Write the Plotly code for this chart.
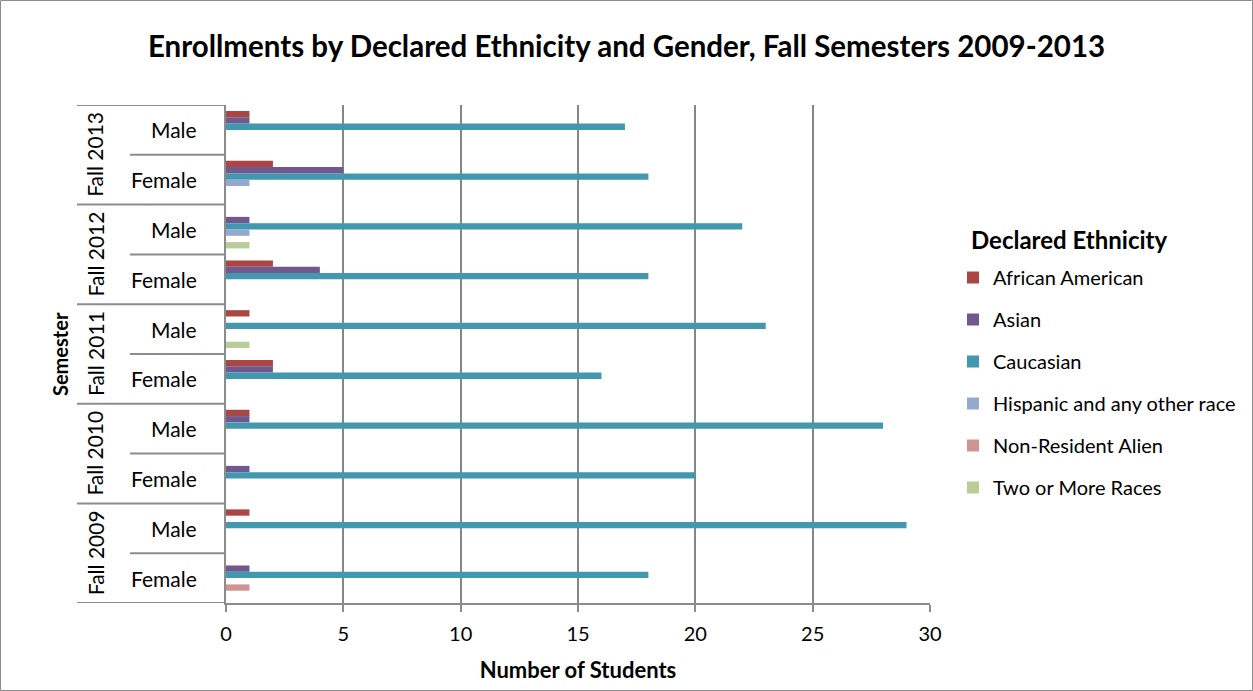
import plotly.graph_objects as go

# Categories listed top to bottom (semester, gender)
semesters = ["Fall 2013", "Fall 2013", "Fall 2012", "Fall 2012", "Fall 2011",
             "Fall 2011", "Fall 2010", "Fall 2010", "Fall 2009", "Fall 2009"]
genders = ["Male", "Female", "Male", "Female", "Male",
           "Female", "Male", "Female", "Male", "Female"]

african_american = [1, 2, 0, 2, 1, 2, 1, 0, 1, 0]
asian = [1, 5, 1, 4, 0, 2, 1, 1, 0, 1]
caucasian = [17, 18, 22, 18, 23, 16, 28, 20, 29, 18]
hispanic = [0, 1, 1, 0, 0, 0, 0, 0, 0, 0]
non_resident_alien = [0, 0, 0, 0, 0, 0, 0, 0, 0, 1]
two_or_more = [0, 0, 1, 0, 1, 0, 0, 0, 0, 0]

series = [
    ("African American", african_american, "#AA4643"),
    ("Asian", asian, "#71588F"),
    ("Caucasian", caucasian, "#4198AF"),
    ("Hispanic and any other race", hispanic, "#93A9CF"),
    ("Non-Resident Alien", non_resident_alien, "#D19392"),
    ("Two or More Races", two_or_more, "#B9CD96"),
]

FONT = "Lato"
W, H = 1253, 691
ML, MR, MT, MB = 226, 323, 105, 88
PW, PH = W - ML - MR, H - MT - MB

n = len(genders)
ypos = list(range(n))

fig = go.Figure()
for i, (name, vals, color) in enumerate(series):
    fig.add_trace(go.Bar(
        y=ypos, x=vals, name=name, orientation="h",
        marker=dict(color=color, line=dict(width=0)),
        legendgroup=f"g{i}",
        customdata=[f"{s} {g}" for s, g in zip(semesters, genders)],
        hovertemplate="%{customdata}<br>%{x}<extra>" + name + "</extra>",
    ))

def px_x(px):
    return (px - ML) / PW

def px_y(py):
    return 1 - (py - MT) / PH

line_col = "#8C8C8C"
shapes = []
annotations = []

# frame around the whole chart
shapes.append(dict(type="rect", xref="paper", yref="paper",
                   x0=px_x(0.5), x1=px_x(W - 0.5),
                   y0=px_y(0.5), y1=px_y(H - 0.5),
                   line=dict(color="#8C8C8C", width=1)))

# category dividers: semester boundaries (long) and gender boundaries (short)
for k in range(n + 1):
    yb = k - 0.5
    long_line = (k % 2 == 0)
    shapes.append(dict(type="line", xref="paper", yref="y",
                       x0=px_x(77 if long_line else 130), x1=0,
                       y0=yb, y1=yb,
                       line=dict(color=line_col, width=2)))

# gender labels
for k, g in enumerate(genders):
    annotations.append(dict(x=px_x(199), y=k, xref="paper", yref="y",
                            text=g, showarrow=False, xanchor="right",
                            font=dict(family=FONT, size=21, color="#000")))

# semester labels, rotated
for k in range(0, n, 2):
    annotations.append(dict(x=px_x(95), y=k + 0.5, xref="paper", yref="y",
                            text=semesters[k], showarrow=False, textangle=-90,
                            xanchor="center", yanchor="middle",
                            font=dict(family=FONT, size=21, color="#000")))

# y-axis title
annotations.append(dict(x=px_x(60), y=0.5, xref="paper", yref="paper",
                        text="<b>Semester</b>", showarrow=False, textangle=-90,
                        xanchor="center", yanchor="middle",
                        font=dict(family=FONT, size=20, color="#000")))

# legend heading
annotations.append(dict(x=px_x(969), y=px_y(239), xref="paper", yref="paper",
                        text="<b>Declared Ethnicity</b>", showarrow=False,
                        xanchor="left", yanchor="middle",
                        font=dict(family=FONT, size=24, color="#000")))

fig.update_layout(
    width=W, height=H,
    margin=dict(l=ML, r=MR, t=MT, b=MB, pad=0),
    paper_bgcolor="white", plot_bgcolor="white",
    font=dict(family=FONT, size=20, color="#000"),
    title=dict(text="<b>Enrollments by Declared Ethnicity and Gender, Fall Semesters 2009-2013</b>",
               x=0.5, xref="container", xanchor="center",
               y=1 - 47 / H, yanchor="middle",
               font=dict(family=FONT, size=29.5, color="#000")),
    barmode="group", bargap=0.24, bargroupgap=0,
    xaxis=dict(range=[0, 30], dtick=5, tick0=0,
               showgrid=True, gridcolor="#868686", gridwidth=2,
               zeroline=False, showline=True, linecolor=line_col, linewidth=2,
               ticks="outside", ticklen=7, tickwidth=2, tickcolor=line_col,
               tickfont=dict(family=FONT, size=20, color="#000"),
               ticklabelstandoff=5,
               title=dict(text="<b>Number of Students</b>", standoff=19,
                          font=dict(family=FONT, size=22, color="#000"))),
    yaxis=dict(range=[n - 0.5, -0.5], showticklabels=False, showgrid=False,
               zeroline=False, showline=True, linecolor=line_col, linewidth=2,
               ticks=""),
    legend=dict(x=px_x(953), y=px_y(258), xanchor="left", yanchor="top",
                traceorder="grouped", tracegroupgap=13,
                font=dict(family=FONT, size=20, color="#000"),
                itemwidth=30, bgcolor="rgba(0,0,0,0)"),
    shapes=shapes,
    annotations=annotations,
)

fig.write_html("out.html")
